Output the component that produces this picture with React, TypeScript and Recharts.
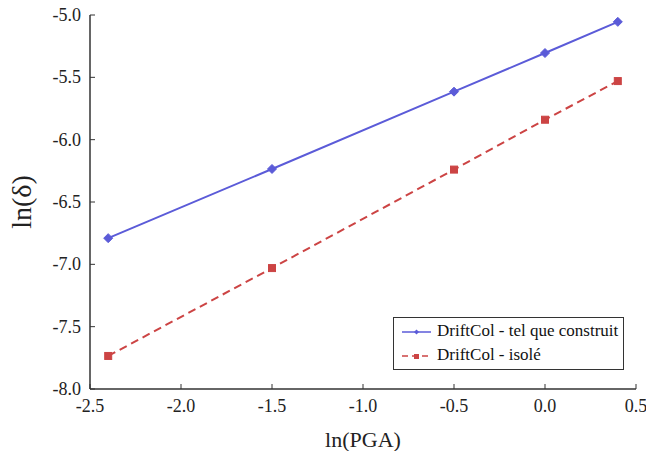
import React from 'react';
import { LineChart, Line, XAxis, YAxis } from 'recharts';

const lnPGA = [-2.4, -1.5, -0.5, 0.0, 0.4];
const driftBuilt = [-6.79, -6.235, -5.615, -5.305, -5.055];
const driftIsolated = [-7.735, -7.03, -6.24, -5.84, -5.53];
const xTicks = [-2.5, -2.0, -1.5, -1.0, -0.5, 0.0, 0.5];
const yTicks = [-8.0, -7.5, -7.0, -6.5, -6.0, -5.5, -5.0];
const seriesNames = ['DriftCol - tel que construit', 'DriftCol - isolé'];

const data = lnPGA.map((x, i) => ({ x, built: driftBuilt[i], isolated: driftIsolated[i] }));

const BLUE = '#5b5bd8';
const RED = '#cc4444';
const FONT = '"Liberation Serif", "Times New Roman", "DejaVu Serif", serif';

const Diamond = (props: any) => {
  const { cx, cy } = props;
  if (cx == null || cy == null) return null;
  const r = 4.5;
  return <path d={`M${cx},${cy - r}L${cx + r},${cy}L${cx},${cy + r}L${cx - r},${cy}Z`} fill={BLUE} stroke={BLUE} />;
};
const Square = (props: any) => {
  const { cx, cy } = props;
  if (cx == null || cy == null) return null;
  const r = 3.5;
  return <rect x={cx - r} y={cy - r} width={2 * r} height={2 * r} fill={RED} stroke={RED} />;
};

const LegendBox = () => (
  <div style={{ position: 'absolute', left: 393, top: 317, border: '1.5px solid #333', background: '#fff', width: 231, height: 53, boxSizing: 'border-box', fontFamily: FONT, fontSize: 17, color: '#111' }}>
    <svg width={40} height={51} style={{ position: 'absolute', left: 0, top: 0 }}>
      <line x1={8} x2={37} y1={14} y2={14} stroke={BLUE} strokeWidth={1.5} />
      <path d="M22.5,11.5L25,14L22.5,16.5L20,14Z" fill={BLUE} />
      <line x1={8} x2={37} y1={38} y2={38} stroke={RED} strokeWidth={1.5} strokeDasharray="6 4" />
      <rect x={20} y={36} width={5} height={5} fill={RED} />
    </svg>
    <div style={{ position: 'absolute', left: 43, top: 3, lineHeight: '20px', whiteSpace: 'nowrap' }}>{seriesNames[0]}</div>
    <div style={{ position: 'absolute', left: 43, top: 27, lineHeight: '20px', whiteSpace: 'nowrap' }}>{seriesNames[1]}</div>
  </div>
);

const SerifTick = (props: any) => {
  const { x, y, payload, textAnchor, tickFormatter } = props;
  const label = tickFormatter ? tickFormatter(payload.value) : String(payload.value);
  return (
    <text x={x} y={y} textAnchor={textAnchor} dominantBaseline="central" fontFamily={FONT} fontSize={18} fill="#222">
      {label}
    </text>
  );
};

export default function App() {
  return (
    <div style={{ position: 'absolute', left: 0, top: 0, width: 646, height: 451, background: '#fff', fontFamily: FONT }}>
      <LineChart width={646} height={451} data={data} margin={{ top: 15, right: 10, bottom: 0, left: 0 }} style={{ fontFamily: FONT }}>
        <XAxis
          xAxisId="bottom"
          dataKey="x"
          type="number"
          domain={[-2.5, 0.5]}
          ticks={xTicks}
          tickFormatter={(v: number) => v.toFixed(1)}
          height={62}
          tickSize={-5}
          tickMargin={22}
          axisLine={{ stroke: '#333', strokeWidth: 1.5 }}
          tickLine={{ stroke: '#333' }}
          tick={<SerifTick />}
          allowDataOverflow
          label={{ value: 'ln(PGA)', position: 'insideBottom', offset: 4, style: { fontFamily: FONT, fontSize: 22, fill: '#222' } }}
        />
        <XAxis
          xAxisId="top"
          orientation="top"
          dataKey="x"
          type="number"
          domain={[-2.5, 0.5]}
          ticks={xTicks}
          tickFormatter={() => ''}
          height={0}
          tickSize={-5}
          axisLine={{ stroke: '#333', strokeWidth: 1.5 }}
          tickLine={{ stroke: '#333' }}
          allowDataOverflow
        />
        <YAxis
          yAxisId="left"
          type="number"
          domain={[-8, -5]}
          ticks={yTicks}
          tickFormatter={(v: number) => v.toFixed(1)}
          width={90}
          tickSize={-5}
          tickMargin={14}
          axisLine={{ stroke: '#333', strokeWidth: 1.5 }}
          tickLine={{ stroke: '#333' }}
          tick={<SerifTick />}
          allowDataOverflow
          label={{ value: 'ln(δ)', angle: -90, position: 'insideLeft', offset: 21, style: { fontFamily: FONT, fontSize: 28, fill: '#222', textAnchor: 'middle' } }}
        />
        <YAxis
          yAxisId="right"
          orientation="right"
          type="number"
          domain={[-8, -5]}
          ticks={yTicks}
          tickFormatter={() => ''}
          width={0}
          tickSize={-5}
          axisLine={{ stroke: '#333', strokeWidth: 1.5 }}
          tickLine={{ stroke: '#333' }}
          allowDataOverflow
        />
        <Line
          xAxisId="bottom"
          yAxisId="left"
          dataKey="built"
          name={seriesNames[0]}
          stroke={BLUE}
          strokeWidth={2}
          dot={<Diamond />}
          isAnimationActive={false}
        />
        <Line
          xAxisId="bottom"
          yAxisId="left"
          dataKey="isolated"
          name={seriesNames[1]}
          stroke={RED}
          strokeWidth={2}
          strokeDasharray="8 5"
          dot={<Square />}
          isAnimationActive={false}
        />
      </LineChart>
      <LegendBox />
    </div>
  );
}
